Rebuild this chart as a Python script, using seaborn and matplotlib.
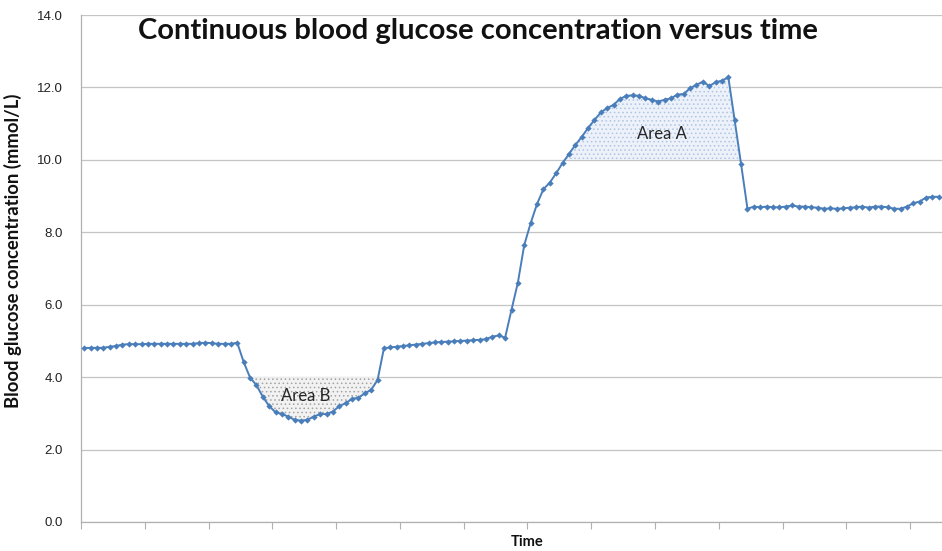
import numpy as np
import pandas as pd
import matplotlib.pyplot as plt
import seaborn as sns

# Glucose readings (mmol/L), one per time step
plateau_1 = [4.80, 4.81, 4.81, 4.81, 4.84, 4.86, 4.90, 4.91, 4.91, 4.91,
             4.92, 4.92, 4.92, 4.92, 4.92, 4.92, 4.92, 4.92, 4.94, 4.95,
             4.94, 4.92, 4.92, 4.92, 4.95]
dip = [4.42, 3.99, 3.78, 3.46, 3.20, 3.03, 2.98, 2.91, 2.82, 2.80,
       2.82, 2.91, 2.98, 2.98, 3.05, 3.20, 3.28, 3.40, 3.43, 3.55,
       3.65, 3.92]
plateau_2 = [4.80, 4.82, 4.84, 4.86, 4.88, 4.90, 4.92, 4.94, 4.96, 4.97,
             4.98, 4.99, 5.00, 5.01, 5.02, 5.03, 5.05, 5.12, 5.15, 5.09]
rise = [5.86, 6.61, 7.65, 8.25, 8.78, 9.19, 9.37, 9.63, 9.91, 10.16,
        10.41, 10.63, 10.88]
peak = [11.10, 11.31, 11.43, 11.52, 11.68, 11.77, 11.78, 11.77, 11.70, 11.66,
        11.61, 11.66, 11.70, 11.80, 11.82, 11.98, 12.07, 12.16, 12.04, 12.14,
        12.19, 12.28, 11.09, 9.88]
plateau_3 = [8.65, 8.71, 8.69, 8.71, 8.69, 8.69, 8.71, 8.74, 8.71, 8.71,
             8.69, 8.68, 8.65, 8.66, 8.65, 8.66, 8.68, 8.69, 8.71, 8.68,
             8.71, 8.71, 8.69, 8.65, 8.65, 8.71, 8.80, 8.85, 8.96, 8.98,
             8.98]

area_a_level = 10.0
area_b_level = 4.0
y_ticks = [0, 2, 4, 6, 8, 10, 12, 14]

glucose = np.array(plateau_1 + dip + plateau_2 + rise + peak + plateau_3)
df = pd.DataFrame({'Time': np.arange(len(glucose)), 'Glucose': glucose})

sns.set_style('white')
plt.rcParams['font.family'] = ['Lato', 'DejaVu Sans']
plt.rcParams['hatch.linewidth'] = 0.6

fig = plt.figure(figsize=(9.42, 5.51), dpi=100)
ax = fig.add_axes([81 / 942, 1 - 522 / 551, 1 - 81 / 942, 507 / 551])

# shaded areas above 10 and below 4
ax.fill_between(df['Time'], df['Glucose'], area_a_level,
                where=df['Glucose'] >= area_a_level, interpolate=True,
                facecolor='#edf2fa', edgecolor='#aec4e3', hatch='....',
                linewidth=0, zorder=1)
ax.fill_between(df['Time'], df['Glucose'], area_b_level,
                where=df['Glucose'] <= area_b_level, interpolate=True,
                facecolor='#f2f2f2', edgecolor='#a3a3a3', hatch='....',
                linewidth=0, zorder=1)

sns.lineplot(data=df, x='Time', y='Glucose', ax=ax, color='#4a7ebb',
             linewidth=1.4, marker='D', markersize=3.2, markeredgewidth=0,
             zorder=3)

ax.text(90.6, 10.72, 'Area A', fontsize=12, color='#262626', ha='center', va='center', zorder=4)
ax.text(34.7, 3.47, 'Area B', fontsize=12, color='#262626', ha='center', va='center', zorder=4)

# axes styling
ax.set_xlim(-0.5, len(glucose) - 0.5)
ax.set_ylim(0, 14)
ax.set_yticks(y_ticks)
ax.set_yticklabels([f'{v:.1f}' for v in y_ticks], family='Liberation Sans', fontsize=9.5)
ax.set_xticks(np.arange(-0.5, len(glucose), 10))
ax.set_xticklabels([])
ax.tick_params(axis='y', length=0, pad=13, colors='#222222')
ax.tick_params(axis='x', direction='out', length=5, width=0.8, color='#b0b0b0', bottom=True)
ax.grid(axis='y', color='#c4c4c4', linewidth=0.9)
ax.grid(axis='x', visible=False)
for side in ['top', 'right']:
    ax.spines[side].set_visible(False)
for side in ['left', 'bottom']:
    ax.spines[side].set_color('#b0b0b0')
    ax.spines[side].set_linewidth(0.9)

ax.set_ylabel('Blood glucose concentration (mmol/L)', fontsize=13.3, fontweight='bold', color='#111111')
ax.yaxis.set_label_coords(-0.068, 0.534)
ax.set_xlabel('Time', fontsize=10.5, fontweight='bold', color='#111111')
ax.xaxis.set_label_coords(0.518, -0.025)

fig.text(478 / 942, 1 - 31 / 551, 'Continuous blood glucose concentration versus time',
         fontsize=21, fontweight='bold', ha='center', va='center', color='#111111')

fig.savefig('out.png', dpi=100)
